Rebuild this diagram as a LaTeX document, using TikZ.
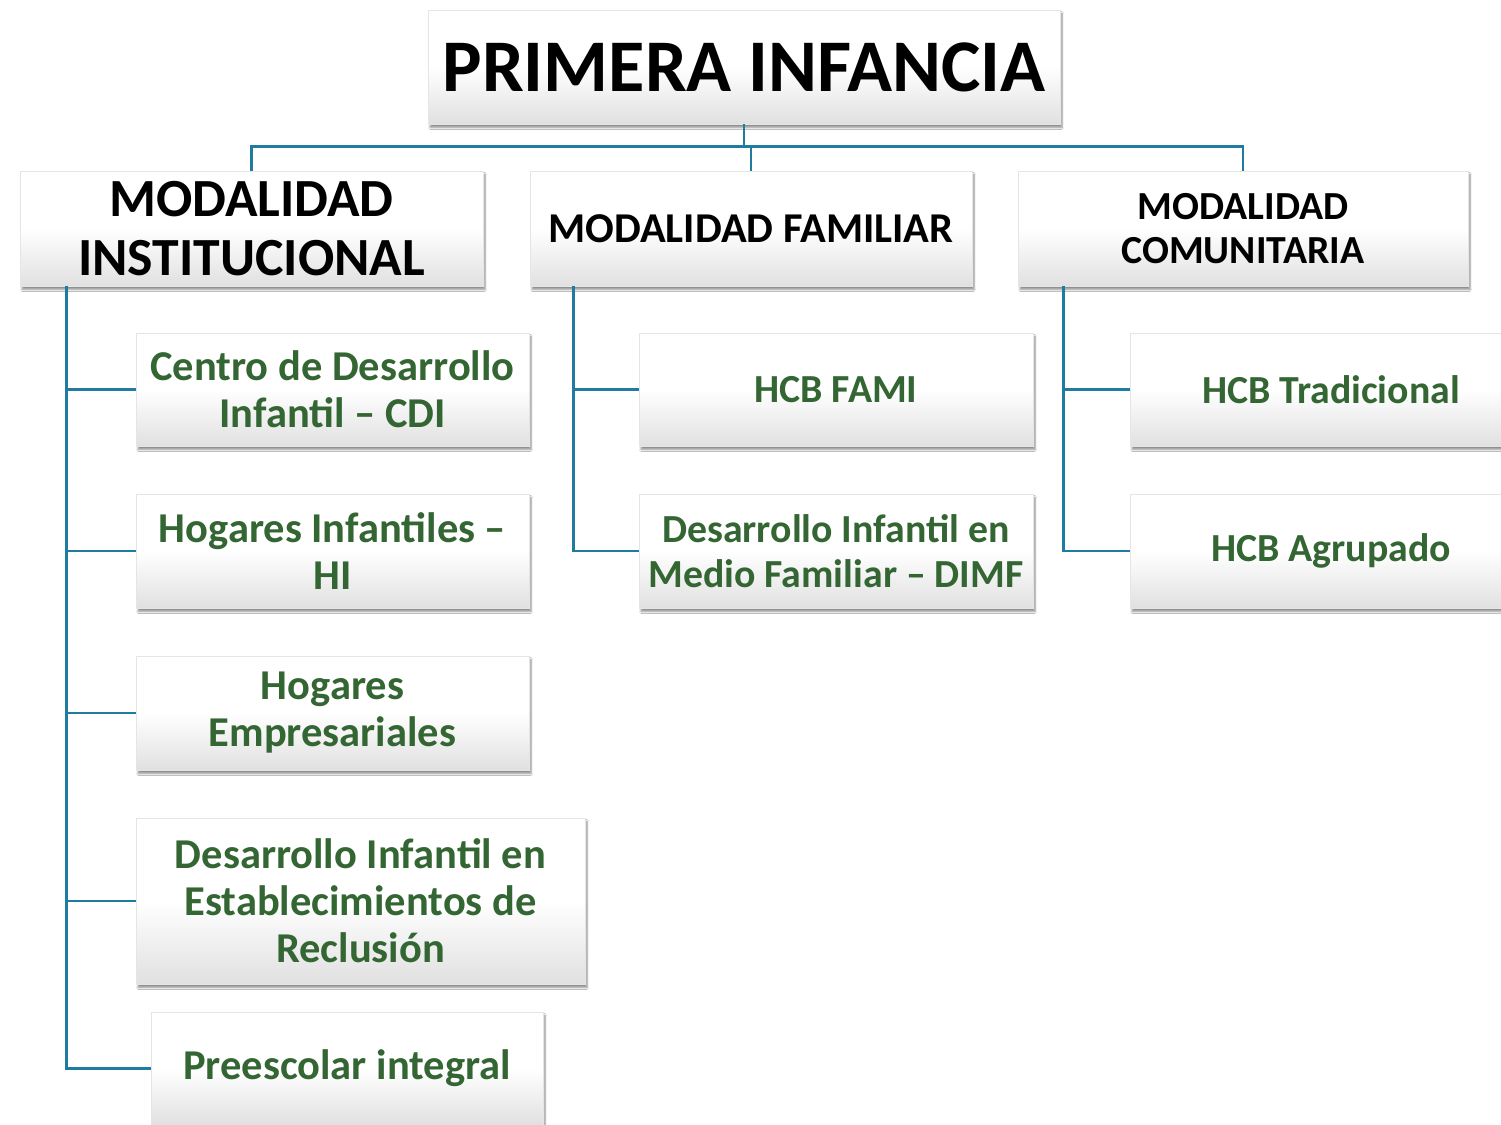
\documentclass[tikz,border=0pt]{standalone}
\usepackage{fontspec}
\setmainfont{Carlito}
\usetikzlibrary{shadows.blur}
\definecolor{conncol}{HTML}{1F7BA0}
\definecolor{txtgreen}{HTML}{336633}
\tikzset{
  box/.style={rectangle, draw=black!10, line width=0.5pt, top color=white, bottom color=black!12, middle color=white,
    blur shadow={shadow xshift=2pt, shadow yshift=-3.5pt, shadow opacity=45, shadow blur steps=6, shadow blur extra rounding=0pt},
    align=center, inner sep=0pt, font=\bfseries},
  gboxl/.style={box, text=txtgreen, font=\bfseries\fontsize{42.5}{47}\selectfont},
  gboxr/.style={box, text=txtgreen, font=\bfseries\fontsize{39.8}{45}\selectfont},
  conn/.style={draw=conncol, line width=2.6pt},
}
\begin{document}
\begin{tikzpicture}[x=1pt,y=1pt]
\clip (0,0) rectangle (1501,-1124);
\fill[white] (0,0) rectangle (1501,-1124);
% top
\node[box, minimum width=632pt, minimum height=114pt, font=\bfseries\fontsize{74.3}{80}\selectfont] (top) at (744,-67) {PRIMERA INFANCIA};
% level 2
\node[box, minimum width=463pt, minimum height=115pt, font=\bfseries\fontsize{53.7}{59}\selectfont] (inst) at (251.5,-228.5) {MODALIDAD\\INSTITUCIONAL};
\node[box, minimum width=442pt, minimum height=115pt, font=\bfseries\fontsize{42.5}{46}\selectfont] (fam) at (751,-228.5) {MODALIDAD FAMILIAR};
\node[box, minimum width=450pt, minimum height=115pt, font=\bfseries\fontsize{39.8}{44}\selectfont] (com) at (1243,-228.5) {MODALIDAD\\COMUNITARIA};
% left children
\node[gboxl, minimum width=393pt, minimum height=113pt] (cdi) at (332.5,-389.5) {Centro de Desarrollo\\Infantil -- CDI};
\node[gboxl, minimum width=393pt, minimum height=114pt] (hi) at (332.5,-551) {Hogares Infantiles --\\HI};
\node[gboxl, minimum width=393pt, minimum height=114pt] (emp) at (332.5,-713) {Hogares\\Empresariales};
\node[gboxl, minimum width=449pt, minimum height=166pt] (rec) at (360.5,-901) {Desarrollo Infantil en\\Establecimientos de\\Reclusión};
\node[gboxl, minimum width=392pt, minimum height=113pt] (pre) at (347,-1068.5) {Preescolar integral};
% middle children
\node[gboxr, minimum width=394pt, minimum height=113pt] (fami) at (836,-389.5) {HCB FAMI};
\node[gboxr, minimum width=394pt, minimum height=114pt] (dimf) at (836,-551) {Desarrollo Infantil en\\Medio Familiar -- DIMF};
% right children
\node[gboxr, minimum width=402pt, minimum height=113pt] (trad) at (1331,-389.5) {HCB Tradicional};
\node[gboxr, minimum width=402pt, minimum height=114pt] (agr) at (1331,-551) {HCB Agrupado};
% connectors top
\draw[conn] (top.south) -- ++(0,-23);
\draw[conn] (inst.north) -- ++(0,24) -| (com.north);
\draw[conn] (fam.north) -- ++(0,24);
% left branch
\coordinate (iv) at ([xshift=47pt]inst.south west);
\draw[conn] (iv) |- (pre.west);
\foreach \n in {cdi,hi,emp,rec} \draw[conn] (\n.west) -- (\n.west -| iv);
% middle branch
\coordinate (mv) at ([xshift=44pt]fam.south west);
\draw[conn] (mv) |- (dimf.west);
\draw[conn] (fami.west) -- (fami.west -| mv);
% right branch
\coordinate (rv) at ([xshift=46pt]com.south west);
\draw[conn] (rv) |- (agr.west);
\draw[conn] (trad.west) -- (trad.west -| rv);
\end{tikzpicture}
\end{document}
